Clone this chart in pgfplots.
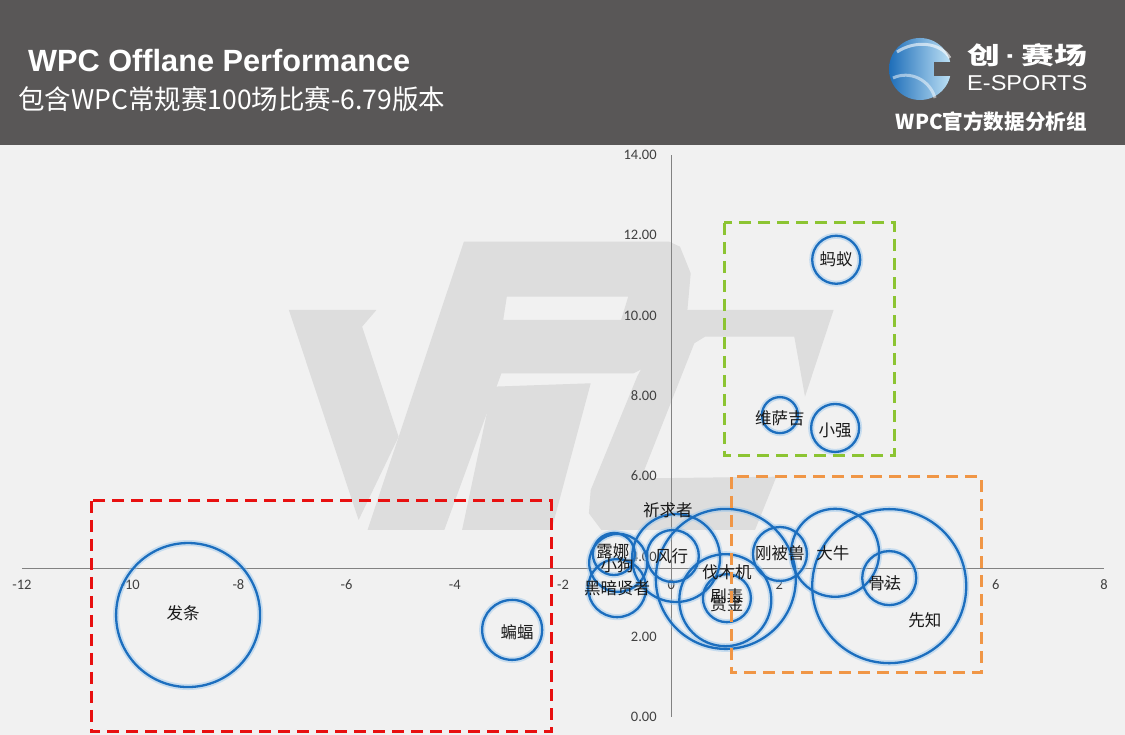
\documentclass[border=0pt]{standalone}
\usepackage{fontspec}
\usepackage{pgfplots}
\usepackage{pgfplotstable}
\pgfplotsset{compat=1.18}
\setmainfont{Carlito}
\newfontfamily\cjk{Noto Sans CJK SC}
\newfontfamily\lib{Liberation Sans}
\definecolor{hdr}{RGB}{89,87,87}
\definecolor{plotbg}{RGB}{241,241,241}
\definecolor{wm}{RGB}{221,221,221}
\definecolor{axgray}{RGB}{130,130,130}
\definecolor{ticktxt}{RGB}{64,64,64}
\definecolor{bub}{RGB}{28,110,190}
\definecolor{glow}{RGB}{150,195,235}
\definecolor{redd}{RGB}{232,16,16}
\definecolor{grn}{RGB}{140,196,50}
\definecolor{org}{RGB}{240,150,70}

\pgfplotstableread{
x y r lx ly label
-8.93 2.54 72 -9.02 2.59 发条
-2.94 2.17 30 -2.85 2.12 蝙蝠
3.05 11.39 24 3.05 11.39 蚂蚁
2.01 7.52 18 2.01 7.45 维萨吉
3.03 7.20 24 3.03 7.15 小强
2.01 4.06 27 2.01 4.09 刚被兽
3.03 4.09 44 2.99 4.09 大牛
4.03 3.46 27 3.95 3.34 骨法
4.03 3.26 77 4.69 2.42 先知
-1.06 4.06 21 -1.08 4.14 露娜
-0.98 3.84 29 -1.00 3.79 小狗
-1.00 3.21 29 -1.00 3.21 黑暗贤者
0.03 4.01 26 0.01 4.01 风行
0.09 3.96 44 -0.06 5.16 祈求者
1.01 3.44 70 1.03 3.61 伐木机
1.03 2.96 24 1.03 3.01 剧毒
1.00 2.91 46 1.03 2.82 赏金
}\bubbles

\begin{document}
\begin{tikzpicture}
\path[use as bounding box] (0,0) rectangle (1125pt,735pt);
\clip (0,0) rectangle (1125pt,735pt);
\begin{scope}[x=1pt,y=-1pt,shift={(0pt,735pt)}]
\fill[plotbg] (0,0) rectangle (1125,735);
\fill[hdr] (0,0) rectangle (1125,145);
% watermark
\fill[wm] (288.9,310) -- (376.4,310) -- (362.1,326.7) -- (398.6,436.7) -- (358.6,520) -- cycle;
\fill[wm, even odd rule] (367.5,530) -- (444.3,530) -- (501.4,373.3) -- (633.6,373.3) -- (665.7,356.7) -- (687.1,313.3) -- (690.7,273.3) -- (680,246.7) -- (669.3,241.7) -- (463.9,241.7) -- cycle
  (506.8,296.7) -- (628.2,296.7) -- (621.1,320) -- (503.2,320) -- cycle;
\fill[wm] (492.5,386.7) -- (590.7,383.3) -- (551.4,530) -- (462.1,530) -- cycle;
\fill[wm] (672.9,310) -- (833.6,310) -- (805,396.7) -- (794.3,336.7) -- (705,336.7) -- (694.3,343.3) -- (644.3,470) -- (651.4,478.3) -- (776.4,476.7) -- (755,530) -- (601.4,530) -- (588.9,513.3) -- (590.7,490) -- (637.1,376.7) -- (658.6,336.7) -- cycle;
% titles
\node[anchor=base west, text=white, font=\lib\bfseries\fontsize{30.7}{36}\selectfont, inner sep=0pt] at (28,72) {WPC Offlane Performance};
\node[anchor=base west, text=white, inner sep=0pt] at (18,110) {\scalebox{1.02}[1.04]{\cjk\fontsize{26}{30}\selectfont 包含WPC常规赛100场比赛-6.79版本}};
% logo
\shade[left color={rgb,255:red,30;green,110;blue,185}, right color={rgb,255:red,190;green,225;blue,245}] (920,69) circle (31);
\fill[hdr] (934,62) rectangle (953,76);
\draw[white, opacity=0.6, line width=3pt] (897,52) .. controls (915,40) and (940,42) .. (950,58);
\draw[white, opacity=0.5, line width=3pt] (893,78) .. controls (910,70) and (930,80) .. (935,98);
\node[anchor=west, text=white, inner sep=0pt] at (967,55) {\resizebox{120pt}{21pt}{\cjk\bfseries 创{\lib\bfseries\,·\,}赛场}};
\node[anchor=west, text=white, inner sep=0pt] at (967,83) {\resizebox{120pt}{15pt}{\lib E-SPORTS}};
\node[anchor=base east, text=white, inner sep=0pt] at (1087,130) {\resizebox{191pt}{!}{\cjk\bfseries\fontsize{22}{26}\selectfont WPC官方数据分析组}};
\end{scope}

\begin{axis}[
  at={(22pt,18pt)}, anchor=south west,
  scale only axis, width=1082pt, height=562pt,
  xmin=-12, xmax=8, ymin=-3.7, ymax=10.3,
  axis lines=middle,
  axis line style={-, draw=axgray, line width=0.9pt},
  xtick={-12,-10,-8,-6,-4,-2,0,2,4,6,8},
  xticklabels={-12,-10,-8,-6,-4,-2,0,2,4,6,8},
  ytick={-3.7,-1.7,0.3,2.3,4.3,6.3,8.3,10.3},
  yticklabels={0.00,2.00,4.00,6.00,8.00,10.00,12.00,14.00},
  major tick length=0pt,
  hide obscured x ticks=false, hide obscured y ticks=false,
  ticklabel style={font=\fontsize{14.5}{16}\selectfont, text=ticktxt},
  xticklabel style={yshift=-8pt},
  yticklabel style={xshift=-11pt},
  clip=false,
]
\addplot[scatter, only marks, mark=o,
  scatter/use mapped color={draw=glow, fill=none},
  mark options={line width=6pt, draw opacity=0.45},
  visualization depends on={\thisrow{r}\as\rr},
  scatter/@pre marker code/.append style={/tikz/mark size=\rr pt}]
  table[x=x, y expr=\thisrow{y}-3.7] {\bubbles};
\addplot[scatter, only marks, mark=o,
  scatter/use mapped color={draw=bub, fill=none},
  mark options={line width=2.3pt},
  visualization depends on={\thisrow{r}\as\rr},
  scatter/@pre marker code/.append style={/tikz/mark size=\rr pt}]
  table[x=x, y expr=\thisrow{y}-3.7] {\bubbles};
\addplot[only marks, mark=none, point meta=explicit symbolic,
  nodes near coords,
  every node near coord/.append style={anchor=center, inner sep=0pt, font=\cjk\fontsize{16.5}{18}\selectfont, text=black!90}]
  table[x=lx, y expr=\thisrow{ly}-3.7, meta=label] {\bubbles};
\end{axis}

\begin{scope}[x=1pt,y=-1pt,shift={(0pt,735pt)}, line width=3pt, dash pattern=on 12pt off 7pt]
\draw[redd] (91,501) rectangle (551,732);
\draw[grn] (724,223) rectangle (894,456);
\draw[org] (731,477) rectangle (981,673);
\end{scope}
\end{tikzpicture}
\end{document}
